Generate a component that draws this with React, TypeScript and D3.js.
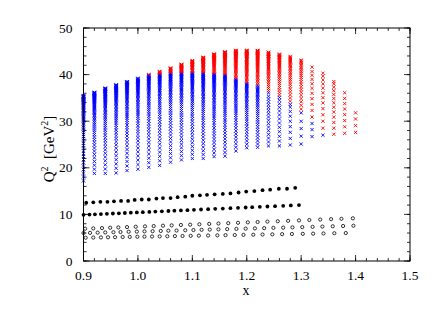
import React from "react";
import * as d3 from "d3";

// ---- Data ----
// Projected kinematic columns (crosses).
const colX = [0.90, 0.92, 0.94, 0.96, 0.98, 1.00, 1.02, 1.04, 1.06, 1.08, 1.10, 1.12, 1.14, 1.16, 1.18, 1.20, 1.22, 1.24, 1.26, 1.28, 1.30, 1.32, 1.34, 1.36, 1.38, 1.40];
// lowest Q² of each column
const colQMin = [17.2, 18.8, 18.8, 18.9, 19.4, 19.7, 20.1, 20.5, 21.2, 21.7, 22.0, 22.0, 22.4, 22.5, 23.6, 24.3, 24.4, 24.7, 24.7, 24.9, 25.1, 26.7, 27.0, 27.2, 27.4, 27.6];
// highest blue cross (0 = no blue crosses)
const colQSplit = [35.5, 36.2, 37.1, 37.8, 38.5, 39.2, 39.9, 40.1, 40.3, 40.4, 40.4, 40.3, 40.1, 39.9, 39.0, 38.1, 37.6, 36.1, 35.1, 33.6, 31.8, 29.5, 27.0, 0, 0, 0];
// highest cross of the column
const colQMax = [35.5, 36.2, 37.1, 37.8, 38.5, 39.2, 40.0, 40.7, 41.4, 42.2, 43.0, 43.7, 44.4, 44.9, 45.2, 45.2, 45.2, 44.8, 44.4, 43.9, 43.1, 41.6, 40.3, 38.5, 36.1, 31.8];
// gap between neighbouring crosses (Q² units) at the bottom / top of the blue part
const blueGapLow = [0.85, 0.9, 0.95, 1.0, 1.0, 1.0, 1.0, 1.0, 0.95, 0.9, 0.9, 0.85, 0.8, 0.8, 0.8, 0.75, 0.7, 0.85, 1.05, 1.4, 1.7, 1.5, 1.5, 0, 0, 0];
const blueGapHigh = [0.05, 0.05, 0.05, 0.05, 0.06, 0.07, 0.08, 0.09, 0.1, 0.1, 0.1, 0.1, 0.1, 0.12, 0.15, 0.15, 0.2, 0.55, 0.7, 0.85, 1.4, 1.5, 1.5, 0, 0, 0];
// gap between neighbouring crosses at the bottom / top of the red part
const redGapLow = [0, 0, 0, 0, 0, 0, 0.1, 0.15, 0.15, 0.15, 0.2, 0.2, 0.25, 0.25, 0.3, 0.3, 0.35, 0.45, 0.55, 0.7, 0.8, 1.4, 1.5, 1.3, 1.4, 1.45];
const redGapHigh = [0, 0, 0, 0, 0, 0, 0.05, 0.05, 0.05, 0.05, 0.05, 0.05, 0.05, 0.05, 0.06, 0.06, 0.07, 0.08, 0.1, 0.15, 0.25, 0.7, 0.7, 0.65, 1.0, 1.4];

// Filled dots, upper row
const dotsAX = [0.905, 0.918, 0.931, 0.944, 0.956, 0.969, 0.982, 0.994, 1.007, 1.020, 1.034, 1.046, 1.060, 1.073, 1.087, 1.100, 1.114, 1.127, 1.141, 1.156, 1.170, 1.185, 1.199, 1.214, 1.229, 1.243, 1.259, 1.274, 1.289];
const dotsAQ = [12.5, 12.6, 12.7, 12.7, 12.8, 12.9, 12.9, 13.1, 13.2, 13.2, 13.4, 13.5, 13.5, 13.7, 13.8, 14.0, 14.1, 14.2, 14.3, 14.4, 14.5, 14.7, 14.9, 15.0, 15.2, 15.3, 15.5, 15.5, 15.7];
// Filled dots, lower row
const dotsBX = [0.900, 0.911, 0.921, 0.932, 0.943, 0.954, 0.965, 0.976, 0.987, 0.998, 1.009, 1.021, 1.032, 1.044, 1.056, 1.067, 1.079, 1.091, 1.103, 1.116, 1.129, 1.142, 1.156, 1.170, 1.184, 1.198, 1.210, 1.224, 1.238, 1.252, 1.267, 1.281, 1.296];
const dotsBQ = [9.90, 9.96, 10.01, 10.07, 10.13, 10.19, 10.24, 10.30, 10.36, 10.42, 10.48, 10.54, 10.60, 10.66, 10.73, 10.79, 10.85, 10.91, 10.98, 11.05, 11.12, 11.19, 11.26, 11.34, 11.41, 11.48, 11.54, 11.62, 11.69, 11.77, 11.85, 11.92, 12.00];

// Open circles, three rows
const circAX = [0.903, 0.918, 0.934, 0.949, 0.964, 0.980, 0.996, 1.013, 1.029, 1.046, 1.062, 1.079, 1.096, 1.113, 1.131, 1.148, 1.166, 1.184, 1.202, 1.220, 1.238, 1.257, 1.276, 1.296, 1.315, 1.335, 1.355, 1.374, 1.395];
const circAQ = [6.93, 7.00, 7.07, 7.14, 7.21, 7.28, 7.35, 7.43, 7.50, 7.58, 7.65, 7.73, 7.80, 7.88, 7.96, 8.04, 8.12, 8.20, 8.29, 8.37, 8.45, 8.53, 8.62, 8.71, 8.80, 8.89, 8.98, 9.06, 9.16];
const circBX = [0.900, 0.912, 0.926, 0.940, 0.955, 0.968, 0.983, 0.998, 1.012, 1.027, 1.042, 1.056, 1.071, 1.087, 1.102, 1.117, 1.132, 1.148, 1.164, 1.181, 1.198, 1.215, 1.232, 1.249, 1.267, 1.284, 1.302, 1.321, 1.339, 1.358, 1.377, 1.396];
const circBQ = [6.00, 6.04, 6.09, 6.13, 6.18, 6.22, 6.27, 6.31, 6.36, 6.40, 6.45, 6.50, 6.54, 6.59, 6.64, 6.69, 6.74, 6.79, 6.84, 6.89, 6.94, 7.00, 7.05, 7.11, 7.16, 7.22, 7.27, 7.33, 7.39, 7.45, 7.51, 7.57];
const circCX = [0.904, 0.918, 0.932, 0.945, 0.958, 0.972, 0.985, 0.999, 1.012, 1.026, 1.040, 1.054, 1.068, 1.082, 1.097, 1.112, 1.129, 1.146, 1.161, 1.178, 1.194, 1.212, 1.229, 1.247, 1.265, 1.283, 1.303, 1.322, 1.341, 1.361, 1.382];
const circCQ = [5.00, 5.03, 5.06, 5.09, 5.11, 5.14, 5.17, 5.20, 5.23, 5.26, 5.28, 5.31, 5.34, 5.37, 5.40, 5.44, 5.47, 5.51, 5.54, 5.57, 5.61, 5.64, 5.68, 5.72, 5.76, 5.79, 5.83, 5.87, 5.91, 5.96, 6.00];

const xTickLabels = ["0.9", "1.0", "1.1", "1.2", "1.3", "1.4", "1.5"];
const yTickLabels = ["0", "10", "20", "30", "40", "50"];

// ---- Layout ----
const W = 447;
const H = 317;
const FONT = "'Liberation Serif', 'Times New Roman', serif";

const x = d3.scaleLinear().domain([0.9, 1.5]).range([83.5, 410]);
const y = d3.scaleLinear().domain([0, 50]).range([261, 28]);

// stack crosses from q0 up to q1, the gap shrinking from gLow to gHigh
function stack(q0: number, q1: number, gLow: number, gHigh: number): number[] {
  const out: number[] = [q0];
  const range = q1 - q0;
  if (range <= 0.01 || gLow <= 0) return out;
  let rho = 1 - (gLow - gHigh) / range;
  rho = Math.max(0.5, Math.min(1, rho));
  let q = q0;
  let g = gLow;
  let guard = 0;
  while (q + g < q1 - 0.5 * g && guard < 500) {
    q += g;
    out.push(q);
    g = Math.max(gHigh, g * rho);
    guard++;
  }
  out.push(q1);
  return out;
}

function crossPath(px: number, py: number, s: number) {
  return `M${px - s},${py - s}L${px + s},${py + s}M${px - s},${py + s}L${px + s},${py - s}`;
}

export default function App() {
  const blue: string[] = [];
  const red: string[] = [];
  colX.forEach((xv, i) => {
    const px = x(xv);
    const hasBlue = colQSplit[i] > 0;
    if (hasBlue) {
      stack(colQMin[i], colQSplit[i], blueGapLow[i], blueGapHigh[i]).forEach((q) =>
        blue.push(crossPath(px, y(q), 1.6))
      );
    }
    if (colQMax[i] > (hasBlue ? colQSplit[i] : 0) + 0.01) {
      const start = hasBlue ? colQSplit[i] + redGapLow[i] : colQMin[i];
      const qs = start >= colQMax[i] ? [colQMax[i]] : stack(start, colQMax[i], redGapLow[i], redGapHigh[i]);
      qs.forEach((q) => red.push(crossPath(px, y(q), 1.6)));
    }
  });

  const xMajor = d3.range(0, 7).map((i) => 0.9 + i * 0.1);
  const xMinor = d3.range(0, 31).map((i) => 0.9 + i * 0.02);
  const yMajor = d3.range(0, 6).map((i) => i * 10);
  const yMinor = d3.range(0, 26).map((i) => i * 2);

  const [x0, x1] = x.range();
  const [y0, y1] = y.range();

  const dotsA = dotsAX.map((v, i) => [v, dotsAQ[i]]);
  const dotsB = dotsBX.map((v, i) => [v, dotsBQ[i]]);
  const circs = [
    ...circAX.map((v, i) => [v, circAQ[i]]),
    ...circBX.map((v, i) => [v, circBQ[i]]),
    ...circCX.map((v, i) => [v, circCQ[i]]),
  ];

  return (
    <svg
      width={W}
      height={H}
      style={{ position: "absolute", left: 0, top: 0, background: "#fff" }}
      fontFamily={FONT}
    >
      <rect x={0} y={0} width={W} height={H} fill="#fff" />
      {/* crosses */}
      <path d={blue.join("")} stroke="#0000ff" strokeWidth={0.9} fill="none" />
      <path d={red.join("")} stroke="#ff0000" strokeWidth={0.9} fill="none" />
      {/* filled dots */}
      {[...dotsA, ...dotsB].map((p, i) => (
        <circle key={"d" + i} cx={x(p[0])} cy={y(p[1])} r={1.9} fill="#000" />
      ))}
      {/* open circles */}
      {circs.map((p, i) => (
        <circle key={"c" + i} cx={x(p[0])} cy={y(p[1])} r={1.6} fill="none" stroke="#000" strokeWidth={0.8} />
      ))}
      {/* frame */}
      <rect x={x0} y={y1} width={x1 - x0} height={y0 - y1} fill="none" stroke="#000" strokeWidth={1} />
      {/* x ticks */}
      {xMinor.map((v, i) => (
        <g key={"xm" + i}>
          <line x1={x(v)} x2={x(v)} y1={y0} y2={y0 - 3} stroke="#000" strokeWidth={0.8} />
          <line x1={x(v)} x2={x(v)} y1={y1} y2={y1 + 3} stroke="#000" strokeWidth={0.8} />
        </g>
      ))}
      {xMajor.map((v, i) => (
        <g key={"xM" + i}>
          <line x1={x(v)} x2={x(v)} y1={y0} y2={y0 - 6} stroke="#000" strokeWidth={0.8} />
          <line x1={x(v)} x2={x(v)} y1={y1} y2={y1 + 6} stroke="#000" strokeWidth={0.8} />
          <text x={x(v)} y={279.5} textAnchor="middle" fontSize={13.5} fill="#000">
            {xTickLabels[i]}
          </text>
        </g>
      ))}
      {/* y ticks */}
      {yMinor.map((v, i) => (
        <g key={"ym" + i}>
          <line x1={x0} x2={x0 + 3} y1={y(v)} y2={y(v)} stroke="#000" strokeWidth={0.8} />
          <line x1={x1} x2={x1 - 3} y1={y(v)} y2={y(v)} stroke="#000" strokeWidth={0.8} />
        </g>
      ))}
      {yMajor.map((v, i) => (
        <g key={"yM" + i}>
          <line x1={x0} x2={x0 + 6} y1={y(v)} y2={y(v)} stroke="#000" strokeWidth={0.8} />
          <line x1={x1} x2={x1 - 6} y1={y(v)} y2={y(v)} stroke="#000" strokeWidth={0.8} />
          <text x={72.5} y={y(v) + 4.6} textAnchor="end" fontSize={13.5} fill="#000">
            {yTickLabels[i]}
          </text>
        </g>
      ))}
      {/* axis titles */}
      <text x={246} y={295} textAnchor="middle" fontSize={14} fill="#000">
        x
      </text>
      <text transform="translate(53.5,149) rotate(-90)" textAnchor="middle" fontSize={15} fill="#000">
        Q<tspan fontSize={10} dy={-5.5}>2</tspan>
        <tspan dy={5.5}>{"\u00A0\u00A0[GeV"}</tspan>
        <tspan fontSize={10} dy={-5.5}>2</tspan>
        <tspan dy={5.5}>]</tspan>
      </text>
    </svg>
  );
}
